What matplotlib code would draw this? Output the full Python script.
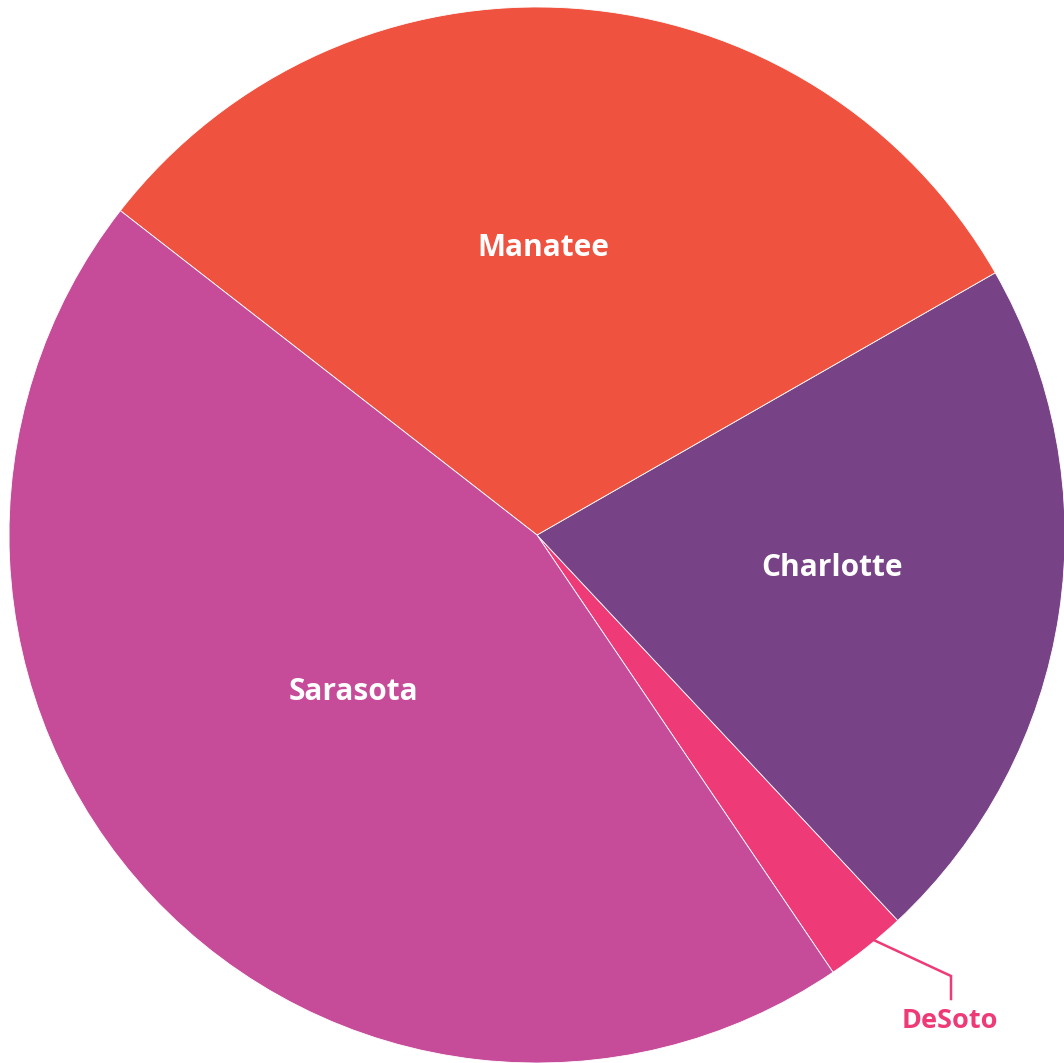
import numpy as np
import matplotlib
matplotlib.use("Agg")
import matplotlib.pyplot as plt

# ============================================================
# Datos (porcentaje por condado)
# ============================================================
condados = ["DeSoto", "Charlotte", "Manatee", "Sarasota"]
valores = [2.5, 21.3, 31.2, 45.0]
colores = ["#EE3A76", "#784386", "#EF523E", "#C64B98"]

plt.rcParams["font.family"] = ["Open Sans", "DejaVu Sans"]

fig = plt.figure(figsize=(10.64, 10.63), dpi=100)
ax = fig.add_axes([0, 0, 1, 1])

# centro y radio en pixeles de la figura
H = 1063
cx, cy, r = 537, H - 535, 528

wedges, _ = ax.pie(
    valores,
    colors=colores,
    startangle=-55.9,
    counterclock=True,
    center=(cx, cy),
    radius=r,
    wedgeprops=dict(linewidth=0.6, edgecolor="white"),
)

ax.set_xlim(0, 1064)
ax.set_ylim(0, H)
ax.set_aspect("equal")
ax.axis("off")

# Etiquetas dentro de las porciones (x centro, y linea base)
etiquetas = {
    "Manatee": (543, 256),
    "Charlotte": (832, 576),
    "Sarasota": (353, 700),
}
for nombre, (x, y) in etiquetas.items():
    ax.text(x, H - y, nombre, color="white", fontsize=21.5,
            fontweight="bold", ha="center", va="baseline")

# DeSoto con linea guia
w = wedges[0]
ang = np.deg2rad((w.theta1 + w.theta2) / 2 + 1.2)
x0, y0 = cx + r * np.cos(ang), cy + r * np.sin(ang)
ax.plot([x0, 951, 951], [y0, H - 976, H - 999],
        color="#EE3A76", linewidth=1.8, solid_joinstyle="miter")
ax.text(950, H - 1028, "DeSoto", color="#EE3A76", fontsize=19.5,
        fontweight="bold", ha="center", va="baseline")

fig.savefig("out.png", dpi=100)
